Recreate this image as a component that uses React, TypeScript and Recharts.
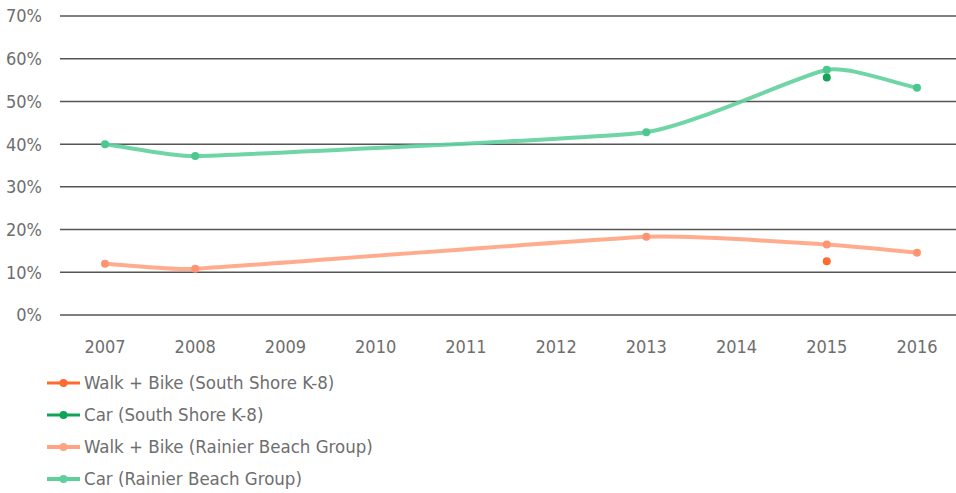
import React from 'react';
import { LineChart, Line, XAxis, YAxis, CartesianGrid } from 'recharts';

const years = ['2007', '2008', '2009', '2010', '2011', '2012', '2013', '2014', '2015', '2016'];
const walkBikeSouthShore = [null, null, null, null, null, null, null, null, 12.6, null];
const carSouthShore = [null, null, null, null, null, null, null, null, 55.6, null];
const walkBikeRainier = [12.0, 10.8, null, null, null, null, 18.3, null, 16.5, 14.6];
const carRainier = [40.0, 37.2, null, null, null, null, 42.8, null, 57.4, 53.2];
const yTicks = [0, 10, 20, 30, 40, 50, 60, 70];

const seriesInfo = [
  { key: 'wbSS', name: 'Walk + Bike (South Shore K-8)', color: '#ff6a2e', width: 3 },
  { key: 'carSS', name: 'Car (South Shore K-8)', color: '#13a356', width: 3 },
  { key: 'wbRB', name: 'Walk + Bike (Rainier Beach Group)', color: '#ffa382', width: 4 },
  { key: 'carRB', name: 'Car (Rainier Beach Group)', color: '#5fcf9c', width: 4 },
];

const data = years.map((y, i) => ({
  year: y,
  wbSS: walkBikeSouthShore[i],
  carSS: carSouthShore[i],
  wbRB: walkBikeRainier[i],
  carRB: carRainier[i],
}));

// Mildly smoothed line: centred-slope tangents with short handles
function smoothCurve(context: any) {
  let pts: number[][] = [];
  return {
    areaStart() {},
    areaEnd() {},
    lineStart() { pts = []; },
    point(x: number, y: number) { pts.push([+x, +y]); },
    lineEnd() {
      const n = pts.length;
      if (!n) return;
      context.moveTo(pts[0][0], pts[0][1]);
      if (n === 1) { context.lineTo(pts[0][0], pts[0][1]); return; }
      const slope: number[] = [];
      const hl: number[] = [];
      for (let i = 0; i < n; i++) {
        const a = pts[Math.max(i - 1, 0)];
        const b = pts[Math.min(i + 1, n - 1)];
        slope.push((b[1] - a[1]) / (b[0] - a[0]));
        const left = i > 0 ? pts[i][0] - pts[i - 1][0] : Infinity;
        const right = i < n - 1 ? pts[i + 1][0] - pts[i][0] : Infinity;
        hl.push(Math.min(left, right) / 4);
      }
      for (let i = 0; i < n - 1; i++) {
        const p1 = pts[i];
        const p2 = pts[i + 1];
        const h1 = hl[i], h2 = hl[i + 1];
        context.bezierCurveTo(p1[0] + h1, p1[1] + slope[i] * h1, p2[0] - h2, p2[1] - slope[i + 1] * h2, p2[0], p2[1]);
      }
    },
  };
}

const FONT = "'DejaVu Sans Condensed', 'DejaVu Sans', sans-serif";
const TXT = '#6e6e6e';

export default function App() {
  return (
    <div style={{ position: 'absolute', left: 0, top: 0, width: 956, height: 493, overflow: 'hidden', background: '#fff', fontFamily: FONT }}>
      <LineChart width={970} height={360} data={data} margin={{ top: 16, right: 8, left: 0, bottom: 15 }}>
        <CartesianGrid vertical={false} stroke="#555" strokeWidth={1.5} />
        <XAxis
          dataKey="year"
          axisLine={false}
          tickLine={false}
          tickSize={0}
          tickMargin={25}
          height={30}
          padding={{ left: 45, right: 45 }}
          tick={{ fill: TXT, fontSize: 18, fontFamily: FONT }}
        />
        <YAxis
          domain={[0, 70]}
          ticks={yTicks}
          width={60}
          axisLine={false}
          tickLine={false}
          tickSize={0}
          tickMargin={18}
          tickFormatter={(v: number) => `${v}%`}
          tick={{ fill: TXT, fontSize: 18, fontFamily: FONT }}
        />
        <Line type={smoothCurve as any} dataKey="carRB" stroke="#5fcf9c" strokeWidth={4} strokeOpacity={0.9} connectNulls isAnimationActive={false}
          dot={{ r: 4, fill: '#4cc88f', stroke: 'none' }} />
        <Line type={smoothCurve as any} dataKey="wbRB" stroke="#ffa382" strokeWidth={4} strokeOpacity={0.9} connectNulls isAnimationActive={false}
          dot={{ r: 4, fill: '#ff9472', stroke: 'none' }} />
        <Line type="linear" dataKey="carSS" stroke="#13a356" strokeWidth={3} isAnimationActive={false}
          dot={{ r: 4, fill: '#13a356', stroke: 'none' }} />
        <Line type="linear" dataKey="wbSS" stroke="#ff6a2e" strokeWidth={3} isAnimationActive={false}
          dot={{ r: 4, fill: '#ff6a2e', stroke: 'none' }} />
      </LineChart>
      <div style={{ position: 'absolute', left: 47, top: 367 }}>
        {seriesInfo.map((s) => (
          <div key={s.key} style={{ display: 'flex', alignItems: 'center', height: 32 }}>
            <svg width={35} height={12} style={{ marginRight: 2 }}>
              <line x1={0} y1={6} x2={33} y2={6} stroke={s.color} strokeWidth={s.width} />
              <circle cx={16.5} cy={6} r={4} fill={s.color} />
            </svg>
            <span style={{ fontSize: 18.5, color: TXT, fontFamily: FONT, lineHeight: '32px' }}>{s.name}</span>
          </div>
        ))}
      </div>
    </div>
  );
}
